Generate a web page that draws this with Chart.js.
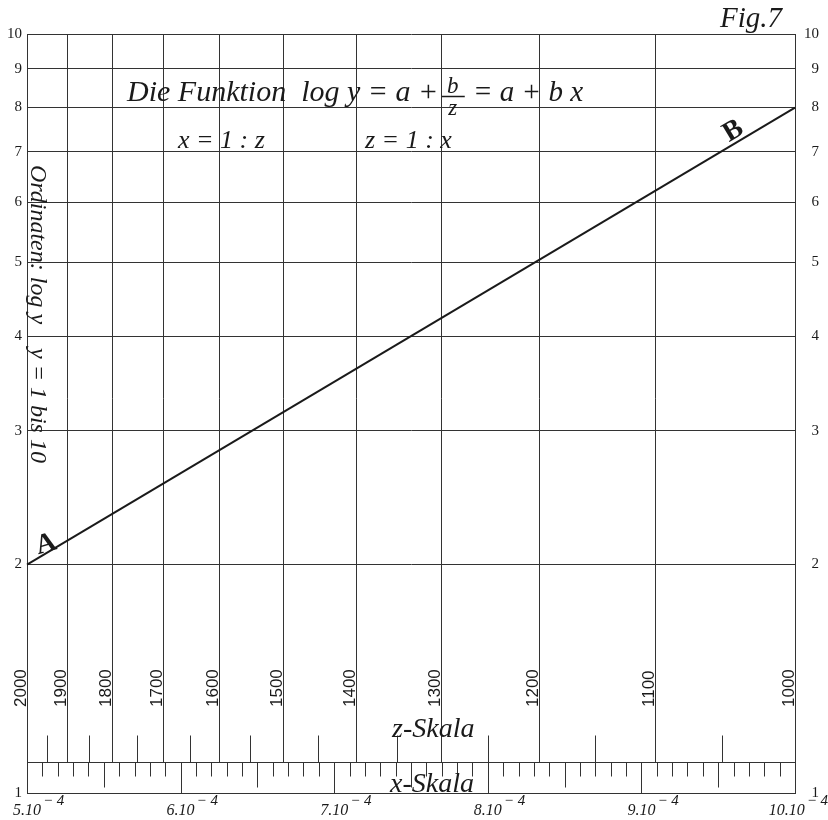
<!DOCTYPE html>
<html>
<head>
<meta charset="utf-8">
<script src="https://cdn.jsdelivr.net/npm/chart.js@4.4.1/dist/chart.umd.min.js"></script>
<style>
  body { margin: 0; background: #fff; }
  #wrap { width: 828px; height: 820px; }
</style>
</head>
<body>
<div id="wrap"><canvas id="myChart"></canvas></div>
<script>
// Abszisse x = 1 : z, in Einheiten von 10^-4
const zLines = [2000, 1900, 1800, 1700, 1600, 1500, 1400, 1300, 1200, 1100, 1000];
const zHalf = [1950, 1850, 1750, 1650, 1550, 1450, 1350, 1250, 1150, 1050];
const xWhole = [5, 6, 7, 8, 9, 10];
const xWholeLabels = ['5.10', '6.10', '7.10', '8.10', '9.10', '10.10'];
const xHalf = [5.5, 6.5, 7.5, 8.5, 9.5];
const xMinor = [5.1, 5.2, 5.3, 5.4, 5.6, 5.7, 5.8, 5.9,
                6.1, 6.2, 6.3, 6.4, 6.6, 6.7, 6.8, 6.9,
                7.1, 7.2, 7.3, 7.4, 7.6, 7.7, 7.8, 7.9,
                8.1, 8.2, 8.3, 8.4, 8.6, 8.7, 8.8, 8.9,
                9.1, 9.2, 9.3, 9.4, 9.6, 9.7, 9.8, 9.9];
const yTicks = [1, 2, 3, 4, 5, 6, 7, 8, 9, 10];
// Gerade A - B
const lineX = [5, 10];
const lineY = [2, 8];

const ink = '#1a1a1a';
const gridInk = '#333';
const serif = '"Liberation Serif", "DejaVu Serif", serif';

const zeichnung = {
  id: 'zeichnung',
  beforeDatasetsDraw(chart) {
    const { ctx, chartArea: ca, scales: { x } } = chart;
    const bandTop = Math.round(ca.bottom - 31) + 0.5;
    const px = v => Math.round(x.getPixelForValue(v)) + 0.5;
    ctx.save();
    ctx.strokeStyle = gridInk;
    ctx.lineWidth = 1;
    ctx.beginPath();
    // z-Linien
    zLines.forEach(z => { ctx.moveTo(px(1e4 / z), ca.top); ctx.lineTo(px(1e4 / z), bandTop); });
    ctx.moveTo(ca.left, bandTop); ctx.lineTo(ca.right, bandTop);
    // z-Skala Zwischenstriche
    zHalf.forEach(z => { ctx.moveTo(px(1e4 / z), bandTop); ctx.lineTo(px(1e4 / z), bandTop - 27); });
    // x-Skala
    xMinor.forEach(v => { ctx.moveTo(px(v), bandTop); ctx.lineTo(px(v), bandTop + 14); });
    xHalf.forEach(v => { ctx.moveTo(px(v), bandTop); ctx.lineTo(px(v), bandTop + 25); });
    xWhole.forEach(v => { ctx.moveTo(px(v), bandTop); ctx.lineTo(px(v), ca.bottom); });
    ctx.stroke();

    // z-Beschriftung
    ctx.fillStyle = ink;
    ctx.font = '17px "Liberation Sans", sans-serif';
    ctx.textAlign = 'left';
    ctx.textBaseline = 'alphabetic';
    zLines.forEach(z => {
      ctx.save();
      ctx.translate(px(1e4 / z) - 2, ca.bottom - 86);
      ctx.rotate(-Math.PI / 2);
      ctx.fillText(String(z), 0, 0);
      ctx.restore();
    });
    ctx.restore();
  },
  afterDraw(chart) {
    const { ctx, chartArea: ca, scales: { x, y } } = chart;
    ctx.save();
    ctx.fillStyle = ink;
    ctx.strokeStyle = ink;
    ctx.textBaseline = 'alphabetic';

    // x-Achse Beschriftung mit Exponent
    xWhole.forEach((v, i) => {
      const p = x.getPixelForValue(v);
      ctx.font = 'italic 16px ' + serif;
      const base = xWholeLabels[i];
      const bw = ctx.measureText(base).width;
      ctx.font = 'italic 15px ' + serif;
      const sw = ctx.measureText('\u2212 4').width;
      let left = p - bw / 2;
      if (left + bw + 2 + sw > chart.width) left = chart.width - bw - 2 - sw;
      ctx.font = 'italic 16px ' + serif;
      ctx.textAlign = 'left';
      ctx.fillText(base, left, ca.bottom + 22);
      ctx.font = 'italic 15px ' + serif;
      ctx.fillText('\u2212 4', left + bw + 2, ca.bottom + 12);
    });

    // Titel
    ctx.textAlign = 'left';
    ctx.font = 'italic 30px ' + serif;
    let tx = 127;
    const ty = 101;
    const t1 = 'Die Funktion  log y = a + ';
    ctx.fillText(t1, tx, ty);
    tx += ctx.measureText(t1).width - 4;
    ctx.font = 'italic 23px ' + serif;
    ctx.textAlign = 'center';
    ctx.fillText('b', tx + 11, ty - 8);
    ctx.fillText('z', tx + 11, ty + 14);
    ctx.lineWidth = 1.5;
    ctx.beginPath();
    ctx.moveTo(tx, ty - 4.5); ctx.lineTo(tx + 23, ty - 4.5);
    ctx.stroke();
    ctx.textAlign = 'left';
    ctx.font = 'italic 29px ' + serif;
    ctx.fillText(' = a + b x', tx + 24, ty);

    ctx.font = 'italic 26px ' + serif;
    ctx.fillText('x = 1 : z', 178, 148);
    ctx.fillText('z = 1 : x', 365, 148);

    ctx.font = 'italic 29px ' + serif;
    ctx.fillText('Fig.7', 720, 27);

    ctx.font = 'italic 28px ' + serif;
    ctx.fillText('z-Skala', 392, 737);
    ctx.fillText('x-Skala', 390, 792);

    // Ordinatenbeschriftung
    ctx.save();
    ctx.translate(31, 165);
    ctx.rotate(Math.PI / 2);
    ctx.font = 'italic 24px ' + serif;
    ctx.fillText('Ordinaten: log y    y = 1 bis 10', 0, 0);
    ctx.restore();

    // Punkte A und B
    const ax = x.getPixelForValue(lineX[0]), ay = y.getPixelForValue(lineY[0]);
    const bx = x.getPixelForValue(lineX[1]), by = y.getPixelForValue(lineY[1]);
    const ang = Math.atan2(by - ay, bx - ax);
    ctx.font = 'bold 28px ' + serif;
    ctx.textAlign = 'center';
    ctx.save();
    ctx.translate(ax + 21, ay - 13);
    ctx.rotate(ang * 0.5);
    ctx.fillText('A', 0, 0);
    ctx.restore();
    ctx.save();
    ctx.translate(bx - 58, by + 30);
    ctx.rotate(ang);
    ctx.fillText('B', 0, 0);
    ctx.restore();
    ctx.restore();
  }
};

const ctx = document.getElementById('myChart');

new Chart(ctx, {
  type: 'line',
  data: {
    datasets: [{
      label: 'log y = a + b x',
      data: lineX.map((v, i) => ({ x: v, y: lineY[i] })),
      borderColor: ink,
      borderWidth: 2,
      pointRadius: 0,
      clip: 4
    }]
  },
  options: {
    responsive: true,
    maintainAspectRatio: false,
    devicePixelRatio: 1,
    animation: false,
    layout: { padding: { top: 34, right: 9, left: 0, bottom: 0 } },
    plugins: { legend: { display: false }, tooltip: { enabled: false } },
    scales: {
      x: {
        type: 'linear', position: 'bottom', min: 5, max: 10,
        grid: { display: false },
        border: { display: true, color: gridInk, width: 1 },
        ticks: { display: false },
        afterFit: s => { s.height = 27; }
      },
      y: {
        type: 'logarithmic', position: 'left', min: 1, max: 10,
        afterBuildTicks: s => { s.ticks = yTicks.map(v => ({ value: v })); },
        ticks: { callback: v => String(v), color: ink, padding: 5, font: { family: serif, size: 15 } },
        grid: { color: gridInk, lineWidth: 1, drawTicks: false },
        border: { display: true, color: gridInk, width: 1 },
        afterFit: s => { s.width = 27; }
      },
      y2: {
        type: 'logarithmic', position: 'right', min: 1, max: 10,
        afterBuildTicks: s => { s.ticks = yTicks.map(v => ({ value: v })); },
        ticks: { callback: v => String(v), color: ink, crossAlign: 'far', font: { family: serif, size: 15 } },
        grid: { display: false },
        border: { display: true, color: gridInk, width: 1 },
        afterFit: s => { s.width = 24; }
      }
    }
  },
  plugins: [zeichnung]
});
</script>
</body>
</html>
